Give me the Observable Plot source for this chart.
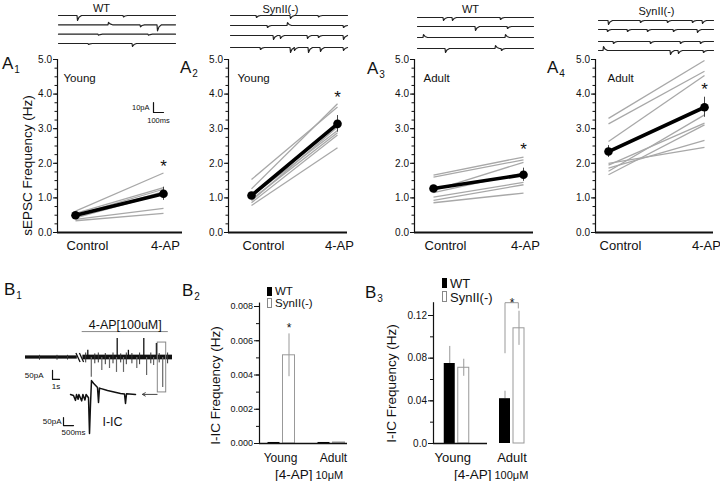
<!DOCTYPE html>
<html><head><meta charset="utf-8">
<script src="https://cdn.jsdelivr.net/npm/d3@7"></script>
<script src="https://cdn.jsdelivr.net/npm/@observablehq/plot@0.6"></script>
<style>
html,body{margin:0;padding:0;background:#fff;}
#fig{position:relative;width:720px;height:481px;overflow:hidden;background:#fff;font-family:"Liberation Sans",Arial,Helvetica,sans-serif;color:#111;}
#fig svg{position:absolute;left:0;top:0;}
.t{position:absolute;white-space:nowrap;}
.sw{position:absolute;box-sizing:border-box;}
</style>
</head><body><div id="fig"></div>
<script>
// ================= DATA =================
const conditions = ["Control", "4-AP"];
const ageLabels = ["Young", "Young", "Adult", "Adult"];
const genotypeLabels = ["WT", "SynII(-)", "WT", "SynII(-)"];

// sEPSC frequency (Hz) per cell: [Control, 4-AP]
const a1Cells = [[0.62,1.72],[0.55,1.30],[0.50,1.25],[0.45,1.18],[0.42,1.12],[0.38,0.70],[0.34,0.55]];
const a2Cells = [[1.53,3.63],[1.26,3.72],[1.05,2.95],[0.96,2.88],[0.92,3.05],[0.86,2.82],[0.78,2.45]];
const a3Cells = [[1.66,2.18],[1.60,2.10],[1.22,2.03],[1.15,1.72],[1.02,1.45],[0.93,1.38],[0.86,1.14]];
const a4Cells = [[3.30,4.97],[3.14,4.66],[2.63,4.54],[2.00,2.46],[1.95,3.16],[1.86,2.66],[1.77,3.40],[1.67,3.11]];
// group means and SEM: [Control, 4-AP]
const a1Mean = [0.50, 1.12], a1Err = [0.04, 0.19];
const a2Mean = [1.07, 3.14], a2Err = [0.08, 0.24];
const a3Mean = [1.27, 1.67], a3Err = [0.07, 0.19];
const a4Mean = [2.34, 3.62], a4Err = [0.17, 0.29];
const starY = [2.02, 4.02, 2.51, 4.25];

// example sEPSC traces: events [time ms, amplitude pA] (negative = inward)
const a1Traces = [[[190,-5],[650,-1.5]], [[500,2.5],[820,-2],[990,-6]], [[400,-1],[900,-1]], [[300,-1],[740,-3]]];
const a2Traces = [[[260,-2],[600,-3],[880,-1.5]], [[370,-2],[570,3],[1130,-2]], [[430,-4],[500,-3],[770,-3],[880,-2],[1130,-4]], [[300,-2],[600,-5],[640,-3],[780,-5],[900,-4],[1130,-3]]];
const a3Traces = [[[260,-3],[350,-3],[830,-2]], [[580,-4],[900,-2]], [[60,3],[880,3]], [[280,-4],[780,3],[840,-2]]];
const a4Traces = [[[100,-4],[420,-2],[690,-2],[940,-2],[1040,-3]], [[90,-2],[290,-2],[490,-2],[750,-2],[990,-3]], [[150,-2],[520,-2],[820,-2],[1020,-2]], [[50,4],[720,-4],[800,-3],[1050,-2]]];
const a1ScaleBar = {t: 950, v: -97, dt: 100, dv: 10, tLabel: "100ms", vLabel: "10pA"};

// B1: long recording (time s, current pA)
const b1Noise = [[0, 7.4, 9], [8.2, 21, 13]];            // [start, end, half-amplitude]
const b1Up = [[8.9,40],[13.1,105],[14.7,40],[16.9,105],[18.7,78]];
const b1Down = [[9.4,-110],[10.9,-72],[12.0,-61],[13.0,-83],[14.0,-83],[15.9,-61],[17.3,-100],[18.3,-44],[19.6,-166]];
const b1Small = [[8.6,-30,25],[9.9,-35,20],[10.4,-30,25],[11.4,-40,22],[12.5,-35,25],[13.6,-30,20],[14.4,-40,25],[15.2,-35,22],[16.3,-40,25],[17.9,-35,25],[19.1,-30,22],[20.3,-35,25],[2.0,-15,12],[4.5,-15,12],[6.0,-14,12]];
const b1BreakAt = 7.8;
const b1Drug = {label: "4-AP[100uM]", t1: 8.1, t2: 20.4, level: 144};
const b1Box = {t1: 18.9, t2: 20.1, lo: -194, hi: 83};
const b1Arrow = {from: 18.8, to: 16.7, v: -205};
const b1ScaleBar = {t: 3.86, v: -122, dt: 1, dv: 50, tLabel: "1s", vLabel: "50pA"};
// B1 inset: I-IC event (time ms, current pA)
const b1Inset = [[0,0],[150,-6],[250,-37],[300,0],[380,-30],[420,0],[560,-40],[620,0],[720,-35],[780,0],[900,-20],[950,-244],[1000,-60],[1050,87],[1150,70],[1350,44],[1400,-50],[1450,40],[1850,25],[2500,6],[2700,3],[2750,-56],[2800,4],[3250,0]];
const b1InsetScale = {t: -350, v: -194, dt: 500, dv: 50, tLabel: "500ms", vLabel: "50pA"};
const b1InsetLabel = {text: "I-IC", t: 2100, v: -169};

// B2 / B3: I-IC frequency (Hz)
const ageGroups = ["Young", "Adult"];
const legendLabels = ["WT", "SynII(-)"];
const b2WT = [0.00006, 0.00006], b2WTErr = [0, 0];
const b2Syn = [0.00515, 0.00006], b2SynErr = [0.00125, 0];
const b2Star = {group: 0, y: 0.0069};
const b2Ticks = [0, 0.002, 0.004, 0.006, 0.008];
const b3WT = [0.075, 0.042], b3WTErr = [0.016, 0.007];
const b3Syn = [0.071, 0.108], b3SynErr = [0.008, 0.016];
const b3Sig = {group: 1, base: 0.085, top: 0.132, end: 0.127, starY: 0.134};
const b3Ticks = [0, 0.04, 0.08, 0.12];

// ================= LAYOUT =================
const FONT = '"Liberation Sans", Arial, Helvetica, sans-serif';
const fig = document.getElementById("fig");
const base = {width: 720, height: 481, style: {background: "transparent", overflow: "visible", fontFamily: FONT, color: "#111"}};
const add = el => fig.appendChild(el);

function pixelPlot(ox, oy, sx, sy, marks) {
  return Plot.plot({...base, marginTop: 0, marginRight: 0, marginBottom: 0, marginLeft: 0,
    x: {domain: [-ox / sx, (720 - ox) / sx], axis: null},
    y: {domain: [-(481 - oy) / sy, oy / sy], axis: null},
    marks});
}

function scaleBarMarks(s, o) {
  return [
    Plot.line([[s.t, s.v + s.dv], [s.t, s.v], [s.t + s.dt, s.v]], {x: d => d[0], y: d => d[1], stroke: "#111", strokeWidth: 1.2}),
    Plot.text([s.vLabel], {x: () => s.t, y: () => s.v + s.dv / 2, textAnchor: "end", dx: o.vdx, fontSize: o.fs, lineAnchor: "middle"}),
    Plot.text([s.tLabel], {x: () => s.t + s.dt / 2, y: () => s.v, dx: o.tdx, dy: o.tdy, fontSize: o.fs, lineAnchor: "middle"})
  ];
}

const layoutA = [
  {x0: 57, xc: 75, xa: 163, xr: 182, ageDx: 6},
  {x0: 228, xc: 251, xa: 337, xr: 347, ageDx: 9},
  {x0: 414, xc: 433, xa: 523, xr: 533, ageDx: 9},
  {x0: 595, xc: 608, xa: 704, xr: 713, ageDx: 12}
];
const layoutTr = [
  {x0: 58, len: 1170, ys: [15, 24.3, 33.7, 43], tx: 101, ty: 8},
  {x0: 230, len: 1170, ys: [15, 25, 35, 47], tx: 280, ty: 8.5},
  {x0: 417, len: 1160, ys: [17, 26, 37, 48], tx: 470, ty: 9},
  {x0: 598, len: 1150, ys: [20, 29, 41, 50], tx: 656, ty: 11}
];

function panelA(L, cells, mean, err, star, age, showTitle) {
  const u = L.xa - L.xc;
  const xmin = (L.x0 - L.xc) / u, xmax = 1 + (L.xr - L.xa) / u;
  const m = mean.map((v, i) => ({i, v, lo: v - err[i], hi: v + err[i]}));
  const labOff = [12, 2];
  const marks = [
    Plot.axisY({ticks: d3.range(0, 5.001, 0.25), tickSize: 2.5, tickFormat: () => "", label: null, strokeWidth: 1}),
    Plot.axisY({ticks: [0, 1, 2, 3, 4, 5], tickSize: 4, tickPadding: 1.5, tickFormat: d3.format(".1f"), fontSize: 10, label: null, strokeWidth: 1}),
    Plot.ruleX([xmin], {y1: () => 0, y2: () => 5, strokeWidth: 1.2}),
    Plot.ruleY([0], {strokeWidth: 2}),
    Plot.link(cells, {x1: () => 0, x2: () => 1, y1: d => d[0], y2: d => d[1], stroke: "#a8a8a8", strokeWidth: 1.3}),
    Plot.ruleX(m, {x: "i", y1: "lo", y2: "hi", stroke: "#444", strokeWidth: 1}),
    Plot.line(m, {x: "i", y: "v", stroke: "#000", strokeWidth: 3.6}),
    Plot.dot(m, {x: "i", y: "v", r: 4.3, fill: "#000"}),
    Plot.text([star], {x: () => 1, y: d => d, text: () => "*", fontSize: 17, dy: 4, lineAnchor: "middle"}),
    Plot.text([age], {frameAnchor: "top-left", textAnchor: "start", lineAnchor: "middle", dx: L.ageDx, dy: 19, fontSize: 11.5}),
    Plot.text(conditions, {x: (d, i) => i + labOff[i] / u, y: () => 0, dy: 13, lineAnchor: "middle", fontSize: 13})
  ];
  if (showTitle) marks.push(Plot.text(["sEPSC Frequency (Hz)"], {frameAnchor: "left", rotate: -90, textAnchor: "middle", lineAnchor: "middle", dx: -30, dy: 19.5, fontSize: 13.5}));
  return Plot.plot({...base, marginLeft: L.x0, marginRight: 720 - L.xr, marginTop: 59, marginBottom: 481 - 232,
    x: {domain: [xmin, xmax], axis: null}, y: {domain: [0, 5], axis: null}, marks});
}

function tracePlot(L, traces, title, extra) {
  const rows = [];
  traces.forEach((ev, k) => {
    const off = -(L.ys[k] - L.ys[0]);
    const pts = [[0, 0]];
    [...ev].sort((a, b) => a[0] - b[0]).forEach(([t, a]) => pts.push([t - 5, 0], [t, a], [t + 15, a * 0.35], [t + 40, 0]));
    pts.push([L.len, 0]);
    pts.forEach(([t, v]) => rows.push({k, t, v: v + off}));
  });
  return pixelPlot(L.x0, L.ys[0], 0.1, 1, [
    Plot.line(rows, {x: "t", y: "v", z: "k", stroke: "#222", strokeWidth: 1.2}),
    Plot.text([title], {x: () => (L.tx - L.x0) / 0.1, y: () => L.ys[0] - L.ty, fontSize: 11, lineAnchor: "middle"}),
    ...(extra || [])
  ]);
}

const cellsAll = [a1Cells, a2Cells, a3Cells, a4Cells];
const meanAll = [a1Mean, a2Mean, a3Mean, a4Mean];
const errAll = [a1Err, a2Err, a3Err, a4Err];
const tracesAll = [a1Traces, a2Traces, a3Traces, a4Traces];
layoutA.forEach((L, i) => {
  add(panelA(L, cellsAll[i], meanAll[i], errAll[i], starY[i], ageLabels[i], i === 0));
  const extra = i === 0 ? scaleBarMarks(a1ScaleBar, {fs: 7.5, vdx: -4, tdx: 0, tdy: 8}) : [];
  add(tracePlot(layoutTr[i], tracesAll[i], genotypeLabels[i], extra));
});

// ---- B1 ----
const bk = b1BreakAt;
add(pixelPlot(25, 357, 7, 0.18, [
  Plot.rect(b1Noise, {x1: d => d[0], x2: d => d[1], y1: d => -d[2], y2: d => d[2], fill: "#111"}),
  Plot.ruleX(b1Small, {x: d => d[0], y1: d => d[1], y2: d => d[2], stroke: "#333", strokeWidth: 1}),
  Plot.ruleX(b1Down, {x: d => d[0], y1: () => 0, y2: d => d[1], stroke: "#666", strokeWidth: 1.2}),
  Plot.ruleX(b1Up, {x: d => d[0], y1: () => 0, y2: d => d[1], stroke: "#111", strokeWidth: 1.3}),
  Plot.link([[bk - 0.6, bk], [bk - 0.1, bk + 0.5]], {x1: d => d[0], x2: d => d[1], y1: () => 25, y2: () => -25, stroke: "#111", strokeWidth: 1.3}),
  Plot.rect([b1Box], {x1: d => d.t1, x2: d => d.t2, y1: d => d.lo, y2: d => d.hi, fill: "none", stroke: "#888", strokeWidth: 1}),
  Plot.ruleY([b1Drug], {x1: d => d.t1, x2: d => d.t2, y: d => d.level, stroke: "#888", strokeWidth: 1}),
  Plot.text([b1Drug], {x: d => (d.t1 + d.t2) / 2, y: d => d.level, text: d => d.label, dy: -7, fontSize: 12.5, lineAnchor: "middle"}),
  Plot.arrow([b1Arrow], {x1: d => d.from, x2: d => d.to, y1: d => d.v, y2: d => d.v, stroke: "#444", strokeWidth: 1, headLength: 5}),
  ...scaleBarMarks(b1ScaleBar, {fs: 8, vdx: -9, tdx: 0, tdy: 7})
]));
add(pixelPlot(70, 394, 0.02, 0.16, [
  Plot.line(b1Inset, {x: d => d[0], y: d => d[1], stroke: "#111", strokeWidth: 1.5}),
  Plot.text([b1InsetLabel], {x: d => d.t, y: d => d.v, text: d => d.text, fontSize: 12.5, lineAnchor: "middle"}),
  ...scaleBarMarks(b1InsetScale, {fs: 8, vdx: -2, tdx: 5, tdy: 7})
]));

// ---- B2 / B3 bar charts ----
function barPanel(L, wt, wtErr, syn, synErr, ticks, fmt, yTop) {
  const step = L.g1 - L.g0;
  const xmin = (L.x0 - L.g0) / step, xmax = 1 + (L.xr - L.g1) / step;
  const off = L.off / step, hw = L.bw / 2 / step;
  const rows = ageGroups.map((g, i) => ({g, i, wt: wt[i], wtErr: wtErr[i], syn: syn[i], synErr: synErr[i]}));
  const marks = [
    Plot.axisY({ticks: L.minor, tickSize: 3, tickFormat: () => "", label: null}),
    Plot.axisY({ticks, tickSize: 5, tickPadding: 1.5, tickFormat: fmt, fontSize: L.tickFs, label: null}),
    Plot.ruleX([xmin], {y1: () => 0, y2: () => yTop, strokeWidth: 1.2}),
    Plot.ruleX(rows.filter(d => d.wtErr > 0), {x: d => d.i - off, y1: d => d.wt, y2: d => d.wt + d.wtErr, stroke: "#999", strokeWidth: 1}),
    Plot.rectY(rows, {x1: d => d.i - off - hw, x2: d => d.i - off + hw, y1: () => 0, y2: d => d.wt, fill: "#000"}),
    Plot.rectY(rows, {x1: d => d.i + off - hw, x2: d => d.i + off + hw, y1: () => 0, y2: d => d.syn, fill: "#fff", stroke: "#999", strokeWidth: 1}),
    Plot.ruleX(rows.filter(d => d.synErr > 0), {x: d => d.i + off, y1: d => d.syn - d.synErr, y2: d => d.syn + d.synErr, stroke: "#999", strokeWidth: 1}),
    Plot.ruleY([0], {x1: () => xmin, x2: () => (L.axisEnd - L.g0) / step, strokeWidth: 1.6}),
    Plot.text(ageGroups, {x: (d, i) => i + L.grpDx[i] / step, y: () => 0, dy: 14.5, fontSize: L.grpFs, lineAnchor: "middle"}),
    Plot.text(["[4-AP]"], {frameAnchor: "bottom-left", textAnchor: "end", lineAnchor: "middle", dx: L.drugX - L.x0, dy: 31, fontSize: 13.5}),
    Plot.text([L.conc], {frameAnchor: "bottom-left", textAnchor: "start", lineAnchor: "middle", dx: L.drugX - L.x0 + 3, dy: 32, fontSize: 11}),
    Plot.text(["I-IC Frequency (Hz)"], {frameAnchor: "left", rotate: -90, textAnchor: "middle", lineAnchor: "middle", dx: L.titleDx, dy: L.titleDy, fontSize: 13.5})
  ];
  return {marks, off, step, plot: extra => Plot.plot({...base, marginLeft: L.x0, marginRight: 720 - L.xr, marginTop: L.top, marginBottom: 481 - 443,
    x: {domain: [xmin, xmax], axis: null}, y: {domain: [0, ticks[ticks.length - 1]], axis: null}, marks: [...marks, ...extra]})};
}

const LB2 = {x0: 259, xr: 350, g0: 281, g1: 331, off: 7.5, bw: 12, top: 306, axisEnd: 347, tickFs: 9,
  minor: d3.range(0, 0.00801, 0.001), grpDx: [-1, 2], grpFs: 12, drugX: 312, conc: "10μM", titleDx: -44, titleDy: 10.5};
const pB2 = barPanel(LB2, b2WT, b2WTErr, b2Syn, b2SynErr, b2Ticks, d3.format(".3f"), 0.0082);
add(pB2.plot([
  Plot.text([b2Star], {x: d => d.group + pB2.off, y: d => d.y, text: () => "*", fontSize: 12, dy: 3, lineAnchor: "middle"})
]));

const LB3 = {x0: 433, xr: 540, g0: 456.25, g1: 511.5, off: 7, bw: 11, top: 315, axisEnd: 487, tickFs: 10,
  minor: d3.range(0, 0.1301, 0.02), grpDx: [-4, 0], grpFs: 13, drugX: 491, conc: "100μM", titleDx: -42, titleDy: 4};
const pB3 = barPanel(LB3, b3WT, b3WTErr, b3Syn, b3SynErr, b3Ticks, d => d === 0 ? "0.0" : d3.format(".2f")(d), 0.132);
const s = b3Sig, o3 = pB3.off;
add(pB3.plot([
  Plot.line([[s.group - o3, s.base], [s.group - o3, s.top], [s.group + o3 * 0.9, s.top], [s.group + o3 * 0.9, s.end]], {x: d => d[0], y: d => d[1], stroke: "#999", strokeWidth: 1}),
  Plot.text([s], {x: d => d.group, y: d => d.starY, text: () => "*", fontSize: 12, dy: 3, lineAnchor: "middle"})
]));

// ---- HTML panel letters and legends ----
function htmlText(str, left, capCenter, fs, extra) {
  const d = document.createElement("div");
  d.className = "t";
  d.style.cssText = `left:${left}px;top:${capCenter - 0.44 * fs}px;font-size:${fs}px;line-height:${fs}px;${extra || ""}`;
  d.innerHTML = str;
  fig.appendChild(d);
}
function swatch(left, top, w, h, fill, border) {
  const d = document.createElement("div");
  d.className = "sw";
  d.style.cssText = `left:${left}px;top:${top}px;width:${w}px;height:${h}px;background:${fill};border:${border};`;
  fig.appendChild(d);
}
const panelLetters = [["A","1",2,62],["A","2",180,66],["A","3",367,67],["A","4",547,66],["B","1",4,288],["B","2",182,289],["B","3",365,291]];
panelLetters.forEach(([L, n, x, cy]) => htmlText(`${L}<span style="font-size:10px;position:relative;top:4px;left:1px">${n}</span>`, x, cy, 17));

swatch(267, 287, 4.5, 9, "#000", "none");
swatch(267, 298, 4.5, 10, "#fff", "1px solid #888");
htmlText(legendLabels[0], 275, 291.5, 11.5);
htmlText(legendLabels[1], 275, 303.5, 11.5);
swatch(442, 278, 4.5, 9.5, "#000", "none");
swatch(442, 291, 4.5, 11, "#fff", "1px solid #888");
htmlText(legendLabels[0], 450, 283, 13);
htmlText(legendLabels[1], 450, 297, 13);
</script>
</body></html>
